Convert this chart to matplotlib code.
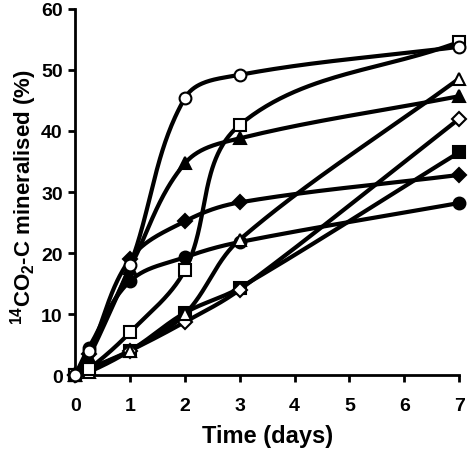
import numpy as np
import matplotlib
matplotlib.use("Agg")
import matplotlib.pyplot as plt

plt.rcParams['font.family'] = ['Liberation Sans', 'DejaVu Sans']
plt.rcParams['font.weight'] = 'bold'
plt.rcParams['mathtext.fontset'] = 'custom'
plt.rcParams['mathtext.bf'] = 'Liberation Sans:bold'
plt.rcParams['mathtext.rm'] = 'Liberation Sans:bold'
plt.rcParams['mathtext.default'] = 'bf'

days = [0, 0.25, 1, 2, 3, 7]

open_circle = [0, 4, 18, 45.4, 49.2, 53.8]
filled_triangle = [0, 3, 17.5, 34.7, 38.8, 45.7]
open_square = [0, 1, 7, 17.2, 41, 54.6]
open_triangle = [0, 0.5, 4, 10, 22.2, 48.6]
filled_diamond = [0, 3.5, 19, 25.2, 28.3, 32.8]
open_diamond = [0, 1, 4, 8.7, 14, 42]
filled_square = [0, 1, 4, 10.2, 14.3, 36.5]
filled_circle = [0, 4.5, 15.4, 19.3, 21.8, 28.2]

# rough pixel size of one unit on each axis, so the smoothing looks right on screen
SX, SY = 54.9, 6.1


def smooth(x, y, n=60, k=0.35):
    # smoothed line: cubic bezier, tangent from neighbours, handle length from segment length
    P = np.column_stack([np.asarray(x, float) * SX, np.asarray(y, float) * SY])
    ext = np.vstack([P[:1], P, P[-1:]])
    tang = ext[2:] - ext[:-2]
    tang = tang / np.linalg.norm(tang, axis=1)[:, None]
    t = np.linspace(0, 1, n)[:, None]
    pts = []
    for i in range(len(P) - 1):
        p0, p3 = P[i], P[i + 1]
        L = np.linalg.norm(p3 - p0) * k
        c1 = p0 + tang[i] * L
        c2 = p3 - tang[i + 1] * L
        seg = ((1 - t)**3 * p0 + 3 * (1 - t)**2 * t * c1
               + 3 * (1 - t) * t**2 * c2 + t**3 * p3)
        pts.append(seg)
    pts = np.vstack(pts)
    return pts[:, 0] / SX, pts[:, 1] / SY


series = [
    (filled_circle, 'o', 'black'),
    (filled_square, 's', 'black'),
    (open_diamond, 'D', 'white'),
    (filled_diamond, 'D', 'black'),
    (open_triangle, '^', 'white'),
    (open_square, 's', 'white'),
    (filled_triangle, '^', 'black'),
    (open_circle, 'o', 'white'),
]

fig = plt.figure(figsize=(4.7, 4.52), dpi=100)
ax = fig.add_axes([0.16, 0.168, 0.817, 0.81])

for vals, mk, fc in series:
    xs, ys = smooth(days, vals)
    ax.plot(xs, ys, color='black', lw=3, solid_capstyle='round', clip_on=False, zorder=2)
    size = 8.5 if mk != 'D' else 7
    ax.plot(days, vals, ls='none', marker=mk, ms=size, mfc=fc, mec='black',
            mew=1.5, clip_on=False, zorder=3)

ax.set_xlim(0, 7)
ax.set_ylim(0, 60)
ax.set_xticks(range(0, 8))
ax.set_yticks(range(0, 61, 10))
for s in ['top', 'right']:
    ax.spines[s].set_visible(False)
for s in ['left', 'bottom']:
    ax.spines[s].set_linewidth(2)
ax.tick_params(direction='out', length=5, width=2, labelsize=14)
ax.tick_params(axis='x', pad=11)
ax.tick_params(axis='y', pad=4)
for lab in ax.get_xticklabels() + ax.get_yticklabels():
    lab.set_fontweight('bold')

ax.set_xlabel('Time (days)', fontsize=17, fontweight='bold', labelpad=7)
ax.set_ylabel(r'$^{14}$CO$_2$-C mineralised (%)', fontsize=16, fontweight='bold')
ax.yaxis.set_label_coords(-0.095, 0.49)

fig.savefig('out.png', dpi=100)
